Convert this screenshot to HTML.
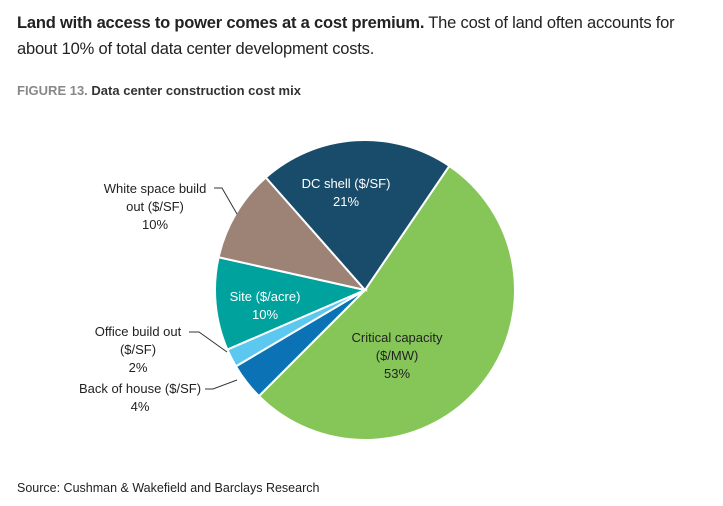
<!DOCTYPE html>
<html><head><meta charset="utf-8"><style>
body{margin:0;background:#fff;width:723px;height:506px;overflow:hidden;font-family:"Liberation Sans",sans-serif;}
.t{position:absolute;left:17px;top:10px;font-size:16.5px;color:#222;line-height:26px;width:700px;letter-spacing:-0.2px}
.f{position:absolute;left:17px;top:83px;font-size:13px;color:#333;}
.s{position:absolute;left:17px;top:481px;font-size:12.5px;color:#222}
</style></head><body>
<div class="t"><b>Land with access to power comes at a cost premium.</b> The cost of land often accounts for about 10% of total data center development costs.</div>
<div class="f"><b style="color:#888">FIGURE 13.</b> <b>Data center construction cost mix</b></div>
<svg id="c" width="723" height="506" style="position:absolute;left:0;top:0"></svg>
<div class="s">Source: Cushman &amp; Wakefield and Barclays Research</div>
<script>
const categories=["Critical capacity","Back of house","Office build out","Site","White space build out","DC shell"];
const values=[53,4,2,10,10,21];
const colors=["#86c558","#0b73b5","#5cc8f0","#00a29e","#9c8375","#194b6b"];
const cx=365,cy=290,r=150,start=34.2;
const svg=document.getElementById('c');
const NS="http://www.w3.org/2000/svg";
const total=values.reduce((a,b)=>a+b,0);
function pt(a,rr){const t=a*Math.PI/180;return [cx+rr*Math.sin(t),cy-rr*Math.cos(t)];}
let a=start;
values.forEach((v,i)=>{
  const sw=v/total*360,a2=a+sw;
  const p1=pt(a,r),p2=pt(a2,r);
  const p=document.createElementNS(NS,'path');
  p.setAttribute('d',`M${cx},${cy}L${p1[0]},${p1[1]}A${r},${r} 0 ${sw>180?1:0} 1 ${p2[0]},${p2[1]}Z`);
  p.setAttribute('fill',colors[i]);p.setAttribute('stroke','#fff');p.setAttribute('stroke-width','2');
  
  
  svg.appendChild(p);
  a=a2;
});
function txt(lines,x,y,anchor,fill){
  const t=document.createElementNS(NS,'text');
  t.setAttribute('x',x);t.setAttribute('y',y);t.setAttribute('text-anchor',anchor);
  t.setAttribute('font-size','13');t.setAttribute('fill',fill);t.setAttribute('font-family','Liberation Sans, sans-serif');
  lines.forEach((l,k)=>{const s=document.createElementNS(NS,'tspan');s.setAttribute('x',x);s.setAttribute('dy',k?18:0);s.textContent=l;t.appendChild(s);});
  
  
  svg.appendChild(t);
}
txt(["Critical capacity","($/MW)",values[0]+"%"],397,342,'middle','#222');
txt(["DC shell ($/SF)",values[5]+"%"],346,188,'middle','#fff');
txt(["Site ($/acre)",values[3]+"%"],265,301,'middle','#fff');
txt(["White space build","out ($/SF)",values[4]+"%"],155,193,'middle','#222');
txt(["Office build out","($/SF)",values[2]+"%"],138,336,'middle','#222');
txt(["Back of house ($/SF)",values[1]+"%"],140,393,'middle','#222');
function ln(d){const p=document.createElementNS(NS,'path');p.setAttribute('d',d);p.setAttribute('stroke','#333');p.setAttribute('fill','none');p.setAttribute('stroke-width','1');


svg.appendChild(p);}
ln("M214,188L222,188L237,214");
ln("M189,332L199,332L227,352");
ln("M205,389L213,389L237,380");
</script>
</body></html>
